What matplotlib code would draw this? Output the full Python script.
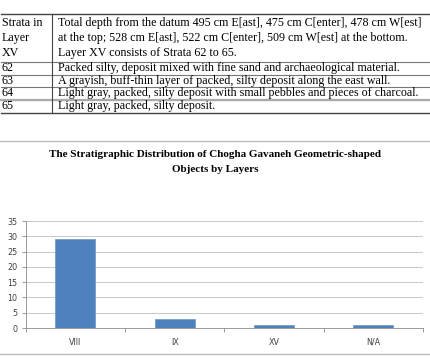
import matplotlib
matplotlib.use("Agg")
import matplotlib.pyplot as plt
from matplotlib.lines import Line2D

# Данные таблицы
col1 = ["Strata in\nLayer\nXV", "62", "63", "64", "65"]
col2 = [
    "Total depth from the datum 495 cm E[ast], 475 cm C[enter], 478 cm W[est]\n"
    "at the top; 528 cm E[ast], 522 cm C[enter], 509 cm W[est] at the bottom.\n"
    "Layer XV consists of Strata 62 to 65.",
    "Packed silty, deposit mixed with fine sand and archaeological material.",
    "A grayish, buff-thin layer of packed, silty deposit along the east wall.",
    "Light gray, packed, silty deposit with small pebbles and pieces of charcoal.",
    "Light gray, packed, silty deposit.",
]

# Данные диаграммы
layers = ["VIII", "IX", "XV", "N/A"]
counts = [29, 3, 1, 1]
title = "The Stratigraphic Distribution of Chogha Gavaneh Geometric-shaped\nObjects by Layers"

W, H = 431, 358
fig = plt.figure(figsize=(W / 100, H / 100), dpi=100)


def fx(px):
    return px / W


def fy(py):
    return 1 - py / H


def hline(y, x0=1, x1=430, color="#555555", lw=0.8):
    fig.add_artist(Line2D([fx(x0), fx(x1)], [fy(y), fy(y)], color=color, lw=lw))


# Таблица
row_lines = [14, 62, 74.5, 87, 99.5, 112.5]
serif = "Liberation Serif"
for i, (a, b) in enumerate(zip(col1, col2)):
    yc = (row_lines[i] + row_lines[i + 1]) / 2
    fig.text(fx(2), fy(yc), a, ha="left", va="center", family=serif,
             fontsize=8.65, linespacing=1.3)
    fig.text(fx(58.5), fy(yc), b, ha="left", va="center", family=serif,
             fontsize=8.65, linespacing=1.3)

hline(row_lines[0], color="#444444", lw=1.0)
for y in row_lines[1:-1]:
    hline(y, color="#777777", lw=0.8)
hline(99.5, color="#aaaaaa", lw=1.6)
hline(row_lines[-1], color="#444444", lw=1.0)
fig.add_artist(Line2D([fx(52.3), fx(52.3)], [fy(row_lines[0]), fy(row_lines[-1])],
                      color="#444444", lw=0.8))

# Рамка диаграммы
hline(141, x0=0, x1=431, color="#bbbbbb", lw=1.0)
hline(354, x0=0, x1=431, color="#bbbbbb", lw=1.0)

fig.text(0.5, fy(162), title, ha="center", va="center", family=serif,
         fontweight="bold", fontsize=8.0, linespacing=1.85)

# Диаграмма
ax = fig.add_axes([fx(25.7), fy(328), fx(423) - fx(25.7), (328 - 221) / H])
x = range(len(layers))
ax.bar(x, counts, width=0.4, color="#4F81BD", edgecolor="#6f97c9", linewidth=0.5, zorder=3)
ax.set_xlim(-0.5, len(layers) - 0.5)
ax.set_ylim(0, 35)
ax.set_yticks(range(0, 36, 5))
ax.set_xticks(list(x))
ax.set_xticklabels(layers)
ax.set_xticks([i - 0.5 for i in range(len(layers) + 1)], minor=True)
ax.tick_params(axis="x", which="major", length=0, pad=7, labelsize=5.8, labelcolor="#404040")
ax.tick_params(axis="x", which="minor", length=3, color="#999999", width=0.7)
ax.tick_params(axis="y", length=3, color="#999999", width=0.7, labelsize=5.8,
               labelcolor="#404040", pad=3)
ax.grid(axis="y", color="#c8c8c8", lw=0.7, zorder=0)
for s in ["top", "right"]:
    ax.spines[s].set_visible(False)
for s in ["left", "bottom"]:
    ax.spines[s].set_color("#999999")
    ax.spines[s].set_linewidth(0.7)

fig.savefig("out.png", dpi=100)
